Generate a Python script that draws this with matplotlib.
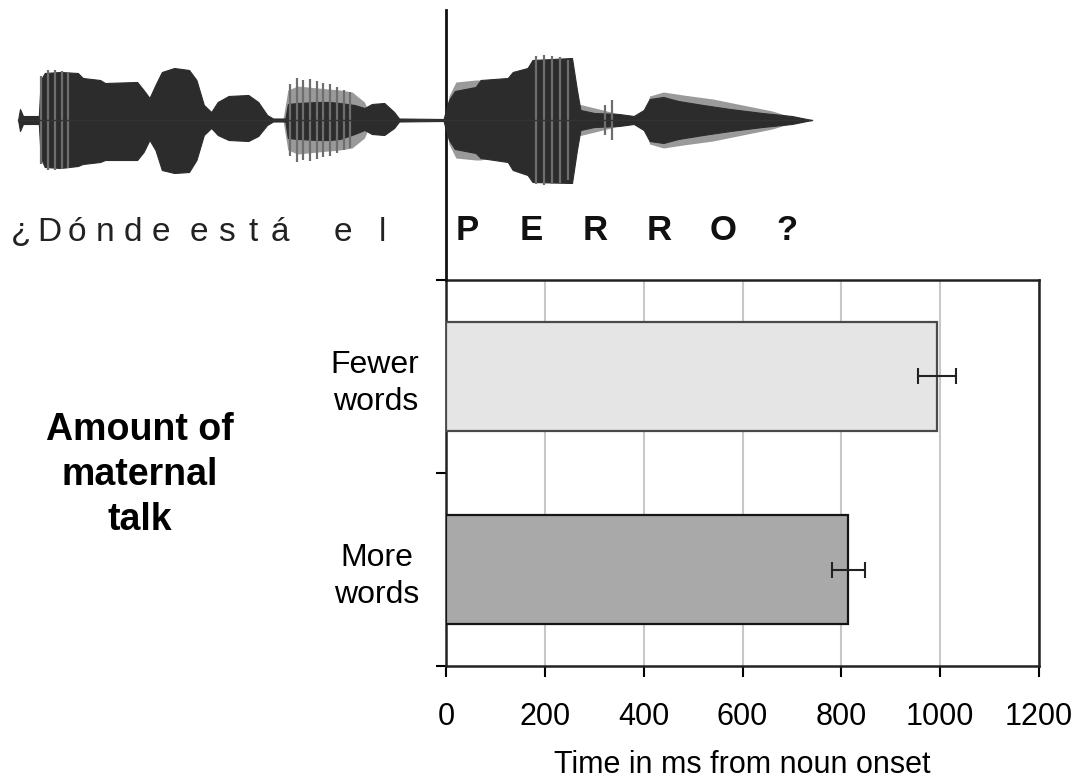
import matplotlib
matplotlib.use("Agg")
import matplotlib.pyplot as plt
import matplotlib.transforms as mtransforms
import numpy as np

plt.rcParams['font.family'] = ['Liberation Sans', 'DejaVu Sans']

# ---------------- data ----------------
categories = ["Fewer\nwords", "More\nwords"]
values = [994, 814]          # ms from noun onset
errors = [39, 33]
bar_colors = ["#e5e5e5", "#a9a9a9"]
bar_edges = ["#4a4a4a", "#151515"]
x_ticks = [0, 200, 400, 600, 800, 1000, 1200]
x_label = "Time in ms from noun onset"
y_title = "Amount of\nmaternal\ntalk"
carrier_words = ["¿Dónde", "está", "el"]
noun_letters = ["P", "E", "R", "R", "O", "?"]

# waveform envelope of the spoken sentence (time in ms relative to noun onset)
wave_t = [-866, -862, -856, -824, -820, -812, -780, -745, -735, -700, -690, -625,
          -612, -600, -588, -575, -550, -520, -505, -490, -475, -462, -440, -400,
          -380, -362, -350, -325, -320, -300, -260, -235, -215, -185, -165, -150,
          -125, -105, -95, -5, 6, 18, 60, 70, 125, 135, 165, 175, 255, 265, 272,
          300, 350, 380, 400, 412, 440, 470, 520, 575, 640, 700, 740]
wave_top = [0, 11, 4, 4, 40, 47, 48, 47, 42, 40, 37, 38,
            30, 22, 35, 48, 52, 50, 40, 15, 8, 18, 24, 25,
            18, 5, 1.5, 1.5, 16, 17, 18, 18, 17, 15, 12, 16,
            17, 8, 1.5, 1, 20, 29, 33, 40, 42, 48, 52, 60, 62, 30, 10,
            7, 6, 4, 10, 21, 23, 19, 15, 11, 7, 4, 0]
wave_bot = [0, 11, 4, 4, 38, 47, 48, 46, 44, 42, 40, 40,
            32, 20, 30, 50, 53, 52, 40, 15, 8, 15, 20, 21,
            16, 5, 1.5, 1.5, 18, 19, 20, 20, 19, 14, 10, 14,
            15, 8, 1.5, 1, 20, 29, 33, 38, 42, 50, 55, 62, 63, 30, 10,
            7, 6, 4, 10, 21, 23, 19, 15, 11, 7, 4, 0]
# lighter outer halo
halo_t = [-330, -320, -300, -260, -215, -190, -165, -150, 0, 6, 20, 60, 70,
          400, 412, 440, 480, 540, 600, 660, 720]
halo_amp = [0, 30, 34, 32, 30, 28, 18, 0, 0, 24, 38, 40, 40,
            0, 24, 28, 25, 21, 15, 9, 0]
# visible glottal pulses (spikes)
spike_t = [-316, -302, -289, -275, -261, -249, -235, -221, -206, -194,
           -820, -806, -792, -778, -764, 322, 336, 182, 198, 214, 230, 246]
spike_amp = [36, 42, 40, 41, 39, 37, 36, 33, 30, 28,
             44, 50, 50, 49, 48, 15, 20, 64, 65, 64, 63, 60]

# ---------------- figure ----------------
W, H = 1084, 783
fig = plt.figure(figsize=(W / 100, H / 100), dpi=100)

ax = fig.add_axes([446 / W, 117 / H, 593 / W, 386 / H])
ypos = np.arange(len(categories))
ax.barh(ypos, values, height=0.56, color=bar_colors, edgecolor=bar_edges,
        linewidth=1.6, zorder=3)
ax.errorbar(values, ypos, xerr=errors, fmt='none', ecolor='#222222',
            elinewidth=1.5, capsize=6, capthick=1.5, zorder=4)
ax.set_xlim(x_ticks[0], x_ticks[-1])
ax.set_ylim(1.5, -0.5)
ax.set_xticks(x_ticks)
ax.set_xticklabels([str(t) for t in x_ticks])
ax.set_yticks([-0.5, 0.5, 1.5])
ax.set_yticklabels([])
ax.set_yticks(ypos, minor=True)
ax.set_yticklabels(categories, minor=True, fontsize=23, ha='right',
                   multialignment='center', linespacing=1.3)
ax.tick_params(axis='y', which='minor', length=0, pad=19)
ax.tick_params(axis='y', which='major', length=7, width=1.5, direction='out')
ax.tick_params(axis='x', length=8, width=1.5, direction='out', labelsize=22,
               pad=18)
ax.grid(axis='x', color='#c8c8c8', linewidth=1.5, zorder=0)
for s in ax.spines.values():
    s.set_linewidth(1.8)
    s.set_color('#222222')
ax.set_xlabel(x_label, fontsize=22, labelpad=13)

# noun-onset line continuing up through the waveform
trans = mtransforms.blended_transform_factory(ax.transData, ax.transAxes)
ax.plot([0, 0], [1, 1.70], transform=trans, color='#111111', lw=2,
        clip_on=False, zorder=5)

fig.text(140 / W, 1 - 475 / H, y_title, fontsize=27, fontweight='bold',
         ha='center', va='center', multialignment='center', linespacing=1.33)

# ---------------- waveform ----------------
ms_per_px = (x_ticks[-1] - x_ticks[0]) / 593
axw = fig.add_axes([0, (H - 200) / H, 1, 160 / H])
axw.set_xlim(-446 * ms_per_px, (W - 446) * ms_per_px)
axw.set_ylim(-80, 80)
axw.axis('off')
axw.fill_between(halo_t, [-a for a in halo_amp], halo_amp, color='#9a9a9a',
                 lw=0)
axw.vlines(spike_t, [-a for a in spike_amp], spike_amp, color='#6e6e6e', lw=1.6)
axw.fill_between(wave_t, [-b for b in wave_bot], wave_top, color='#2c2c2c',
                 lw=0.8, edgecolor='#2c2c2c')
axw.plot([wave_t[0], wave_t[-1]], [0, 0], color='#333333', lw=1)

# ---------------- sentence text (letter-spaced) ----------------
word_start = [21, 199, 343]     # centre of first letter, px
word_step = [28, 27, 39]        # letter spacing, px
for wtxt, wx, st in zip(carrier_words, word_start, word_step):
    for j, ch in enumerate(wtxt):
        fig.text((wx + st * j) / W, 1 - 233 / H, ch, fontsize=24,
                 ha='center', va='center', color='#222222')
for i, ch in enumerate(noun_letters):
    fig.text((467 + 64 * i) / W, 1 - 231 / H, ch, fontsize=25,
             fontweight='bold', ha='center', va='center', color='#111111')

fig.savefig("out.png", dpi=100)
